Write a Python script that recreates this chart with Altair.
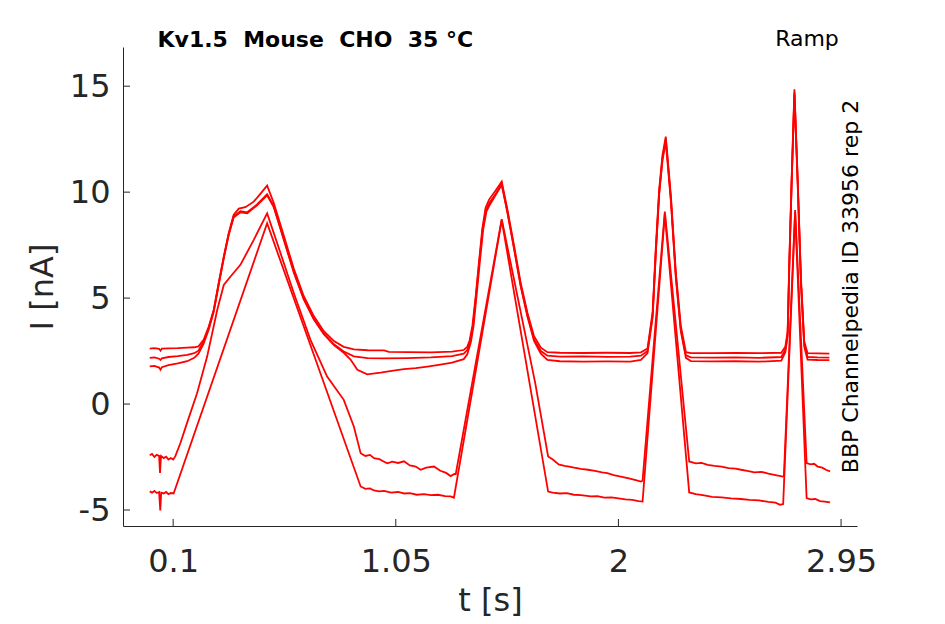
import altair as alt
import pandas as pd

# ---------------- data ----------------
TITLE = "Kv1.5\u00a0 Mouse\u00a0 CHO\u00a0 35 °C"
PROTOCOL = "Ramp"
SIDE_NOTE = "BBP Channelpedia ID 33956 rep 2"

X_TICKS = [0.1, 1.05, 2, 2.95]
Y_TICKS = [-5, 0, 5, 10, 15]

T1 = [0.000, 0.020, 0.040, 0.046, 0.052, 0.080, 0.120, 0.160, 0.190, 0.208, 0.230, 0.252, 0.273, 0.294,
      0.316, 0.337, 0.358, 0.380, 0.408, 0.444, 0.472, 0.501, 0.529, 0.572, 0.615, 0.657, 0.700, 0.743,
      0.786, 0.828, 0.871, 0.930, 1.000, 1.020, 1.100, 1.200, 1.290, 1.340, 1.355, 1.365, 1.377, 1.391,
      1.405, 1.419, 1.433, 1.448, 1.476, 1.502, 1.526, 1.555, 1.583, 1.612, 1.640, 1.669, 1.697, 1.750,
      1.850, 1.950, 2.050, 2.096, 2.124, 2.146, 2.160, 2.174, 2.188, 2.202, 2.224, 2.245, 2.266, 2.288,
      2.309, 2.400, 2.500, 2.600, 2.695, 2.712, 2.722, 2.729, 2.739, 2.751, 2.765, 2.779, 2.793, 2.807,
      2.850, 2.900]
I1 = [2.62, 2.64, 2.61, 2.52, 2.62, 2.63, 2.64, 2.66, 2.68, 2.72, 3.03, 3.66, 4.44, 5.70,
      6.96, 8.06, 8.92, 9.22, 9.29, 9.55, 9.92, 10.31, 9.50, 7.95, 6.38, 5.10, 4.15, 3.44,
      2.97, 2.70, 2.58, 2.54, 2.53, 2.46, 2.45, 2.44, 2.47, 2.55, 2.70, 3.00, 3.70, 5.10,
      6.70, 8.25, 9.25, 9.65, 10.08, 10.50, 9.20, 7.45, 5.72, 4.30, 3.20, 2.66, 2.45, 2.42,
      2.41, 2.42, 2.41, 2.44, 2.62, 4.35, 7.50, 10.15, 11.75, 12.62, 9.80, 6.20, 3.70, 2.45,
      2.40, 2.40, 2.41, 2.40, 2.42, 2.70, 3.40, 6.65, 10.60, 14.85, 10.60, 5.90, 2.95, 2.40,
      2.39, 2.38]

T2 = [0.000, 0.020, 0.040, 0.046, 0.052, 0.080, 0.120, 0.160, 0.190, 0.208, 0.230, 0.252, 0.273, 0.294,
      0.316, 0.337, 0.358, 0.387, 0.416, 0.458, 0.501, 0.529, 0.572, 0.615, 0.657, 0.700, 0.743, 0.786,
      0.828, 0.871, 0.930, 1.000, 1.100, 1.200, 1.290, 1.340, 1.355, 1.368, 1.380, 1.393, 1.407, 1.421,
      1.435, 1.450, 1.478, 1.502, 1.526, 1.555, 1.583, 1.612, 1.640, 1.669, 1.697, 1.750, 1.850, 1.950,
      2.050, 2.096, 2.124, 2.146, 2.160, 2.174, 2.188, 2.202, 2.224, 2.245, 2.266, 2.288, 2.309, 2.400,
      2.500, 2.600, 2.695, 2.712, 2.722, 2.729, 2.739, 2.751, 2.765, 2.779, 2.793, 2.807, 2.850, 2.900]
I2 = [2.18, 2.20, 2.14, 2.08, 2.16, 2.22, 2.26, 2.32, 2.40, 2.52, 2.95, 3.60, 4.40, 5.65,
      6.92, 8.02, 8.85, 9.10, 9.05, 9.42, 9.90, 9.35, 7.80, 6.25, 4.98, 4.02, 3.32, 2.82,
      2.48, 2.25, 2.17, 2.16, 2.17, 2.20, 2.26, 2.38, 2.55, 3.00, 3.75, 5.20, 6.80, 8.30,
      9.15, 9.50, 9.95, 10.40, 9.10, 7.35, 5.60, 4.18, 3.05, 2.50, 2.28, 2.24, 2.25, 2.23,
      2.24, 2.28, 2.50, 4.20, 7.30, 10.00, 11.60, 12.50, 9.65, 6.05, 3.55, 2.30, 2.20, 2.19,
      2.20, 2.18, 2.22, 2.55, 3.30, 6.50, 10.45, 14.70, 10.45, 5.75, 2.80, 2.22, 2.20, 2.19]

T3 = [0.000, 0.020, 0.040, 0.046, 0.052, 0.080, 0.120, 0.160, 0.190, 0.208, 0.230, 0.252, 0.273, 0.294,
      0.316, 0.337, 0.358, 0.387, 0.416, 0.458, 0.501, 0.529, 0.572, 0.615, 0.657, 0.700, 0.743, 0.786,
      0.828, 0.857, 0.886, 0.928, 0.985, 1.040, 1.085, 1.135, 1.185, 1.240, 1.290, 1.340, 1.355, 1.370,
      1.382, 1.395, 1.409, 1.423, 1.437, 1.452, 1.478, 1.502, 1.526, 1.555, 1.583, 1.612, 1.640, 1.669,
      1.697, 1.750, 1.850, 1.950, 2.050, 2.096, 2.124, 2.146, 2.160, 2.174, 2.188, 2.202, 2.224, 2.245,
      2.266, 2.288, 2.309, 2.400, 2.500, 2.600, 2.695, 2.712, 2.722, 2.729, 2.739, 2.751, 2.765, 2.779,
      2.793, 2.807, 2.850, 2.900]
I3 = [1.78, 1.80, 1.72, 1.62, 1.74, 1.84, 1.92, 2.02, 2.18, 2.38, 2.85, 3.52, 4.35, 5.60,
      6.88, 7.98, 8.80, 9.05, 9.00, 9.38, 9.85, 9.30, 7.75, 6.20, 4.95, 4.00, 3.30, 2.78,
      2.42, 2.10, 1.62, 1.40, 1.48, 1.58, 1.65, 1.70, 1.77, 1.86, 1.95, 2.12, 2.35, 2.90,
      3.70, 5.15, 6.75, 8.25, 9.10, 9.42, 9.90, 10.35, 9.05, 7.30, 5.55, 4.12, 2.98, 2.38,
      2.08, 2.02, 2.00, 2.01, 2.00, 2.08, 2.40, 4.10, 7.20, 9.90, 11.50, 12.40, 9.55, 5.95,
      3.45, 2.18, 2.03, 2.01, 2.02, 2.00, 2.05, 2.45, 3.20, 6.40, 10.35, 14.60, 10.35, 5.65,
      2.70, 2.10, 2.08, 2.07]

T4 = [0.000, 0.010, 0.020, 0.030, 0.040, 0.044, 0.048, 0.060, 0.070, 0.080, 0.090, 0.100, 0.109, 0.131,
      0.159, 0.202, 0.245, 0.288, 0.316, 0.344, 0.387, 0.444, 0.501, 0.544, 0.615, 0.686, 0.757, 0.828,
      0.871, 0.900, 0.920, 0.940, 0.957, 0.980, 1.000, 1.014, 1.035, 1.060, 1.085, 1.110, 1.135, 1.156,
      1.180, 1.213, 1.240, 1.265, 1.284, 1.300, 1.306, 1.502, 1.645, 1.700, 1.720, 1.745, 1.770, 1.790,
      1.811, 1.840, 1.870, 1.900, 1.930, 1.953, 1.980, 2.010, 2.040, 2.070, 2.096, 2.103, 2.198, 2.302,
      2.330, 2.355, 2.381, 2.410, 2.440, 2.470, 2.500, 2.523, 2.550, 2.580, 2.610, 2.640, 2.670, 2.703,
      2.706, 2.754, 2.803, 2.820, 2.835, 2.850, 2.870, 2.885, 2.903]
I4 = [-2.42, -2.35, -2.50, -2.40, -2.45, -3.25, -2.45, -2.55, -2.48, -2.62, -2.55, -2.62, -2.47, -1.84,
      -0.90, 0.51, 2.24, 4.44, 5.62, 6.01, 6.57, 7.75, 9.00, 7.59, 5.23, 3.03, 1.30, 0.20,
      -1.06, -2.32, -2.45, -2.40, -2.55, -2.60, -2.72, -2.80, -2.72, -2.78, -2.70, -2.90, -2.95, -3.10,
      -3.00, -2.95, -3.15, -3.25, -3.40, -3.30, -3.30, 8.72, 0.99, -2.47, -2.62, -2.85, -2.92, -2.95,
      -3.00, -3.06, -3.10, -3.15, -3.22, -3.26, -3.35, -3.42, -3.50, -3.58, -3.66, -3.62, 9.08, -2.71,
      -2.80, -2.78, -2.87, -2.92, -2.95, -3.02, -3.05, -3.10, -3.15, -3.22, -3.20, -3.28, -3.35, -3.42,
      -3.40, 9.16, -2.79, -2.85, -2.82, -2.95, -3.00, -3.10, -3.18]

T5 = [0.000, 0.010, 0.020, 0.030, 0.040, 0.045, 0.049, 0.060, 0.070, 0.080, 0.090, 0.102, 0.501, 0.900,
      0.920, 0.940, 0.957, 0.980, 1.000, 1.030, 1.060, 1.085, 1.110, 1.140, 1.170, 1.200, 1.230, 1.260,
      1.284, 1.298, 1.502, 1.700, 1.720, 1.750, 1.780, 1.810, 1.840, 1.882, 1.910, 1.940, 1.970, 2.000,
      2.030, 2.060, 2.085, 2.103, 2.198, 2.302, 2.330, 2.360, 2.400, 2.440, 2.480, 2.523, 2.560, 2.600,
      2.640, 2.670, 2.690, 2.703, 2.754, 2.803, 2.820, 2.840, 2.860, 2.880, 2.903]
I5 = [-4.12, -4.18, -4.10, -4.20, -4.15, -5.02, -4.18, -4.22, -4.15, -4.25, -4.20, -4.22, 8.53, -3.89,
      -4.00, -3.98, -4.08, -4.12, -4.10, -4.18, -4.15, -4.22, -4.20, -4.28, -4.25, -4.30, -4.28, -4.35,
      -4.36, -4.42, 8.68, -4.13, -4.18, -4.22, -4.20, -4.28, -4.30, -4.36, -4.35, -4.42, -4.40, -4.45,
      -4.50, -4.52, -4.58, -4.60, 8.95, -4.17, -4.25, -4.30, -4.38, -4.40, -4.45, -4.48, -4.52, -4.55,
      -4.62, -4.65, -4.75, -4.72, 9.05, -4.44, -4.50, -4.48, -4.58, -4.60, -4.64]

TRACES = {"1": (T1, I1), "2": (T2, I2), "3": (T3, I3), "4": (T4, I4), "5": (T5, I5)}

# ---------------- layout / style ----------------
W, H = 734, 479
AX = "#262626"
FONT = "DejaVu Sans"
X_DOMAIN = [-0.114, 3.018]
Y_DOMAIN = [-5.755, 16.85]

rows = []
for name, (ts, vs) in TRACES.items():
    for k, (t, v) in enumerate(zip(ts, vs)):
        rows.append({"trace": name, "idx": k, "t": t, "I": v})
df = pd.DataFrame(rows)

xscale = alt.Scale(domain=X_DOMAIN, nice=False, zero=False)
yscale = alt.Scale(domain=Y_DOMAIN, nice=False, zero=False)

xaxis = alt.Axis(values=X_TICKS, labelExpr="datum.value + ''", ticks=False, tickSize=0, grid=False,
                 domainColor=AX, domainWidth=1, labelFontSize=32, labelColor=AX, labelFont=FONT,
                 labelPadding=20, labelFlush=False, labelOverlap=False,
                 title="t [s]", titleFontSize=32, titleFontWeight="normal", titleColor=AX,
                 titleFont=FONT, titlePadding=8)
yaxis = alt.Axis(values=Y_TICKS, labelExpr="datum.value + ''", ticks=False, tickSize=0, grid=False,
                 domainColor=AX, domainWidth=1, labelFontSize=32, labelColor=AX, labelFont=FONT,
                 labelPadding=13, labelFlush=False, labelOverlap=False,
                 title="I [nA]", titleFontSize=32, titleFontWeight="normal", titleColor=AX,
                 titleFont=FONT, titlePadding=10)

lines = alt.Chart(df).mark_line(color="#ff0000", strokeWidth=1.8, clip=True).encode(
    x=alt.X("t:Q", scale=xscale, axis=xaxis),
    y=alt.Y("I:Q", scale=yscale, axis=yaxis),
    detail="trace:N",
    order=alt.Order("idx:Q"),
)

xt = alt.Chart(pd.DataFrame({"t": X_TICKS})).mark_rule(color=AX, strokeWidth=1).encode(
    x=alt.X("t:Q", scale=xscale, axis=xaxis),
    y=alt.value(H), y2=alt.value(H - 7),
)
yt = alt.Chart(pd.DataFrame({"I": Y_TICKS})).mark_rule(color=AX, strokeWidth=1).encode(
    y=alt.Y("I:Q", scale=yscale, axis=yaxis),
    x=alt.value(0), x2=alt.value(7),
)

title_txt = alt.Chart(pd.DataFrame({"label": [TITLE]})).mark_text(
    font=FONT, fontSize=22, fontWeight="bold", color="black", align="left", baseline="alphabetic"
).encode(text="label:N", x=alt.value(34.5), y=alt.value(0))

ramp_txt = alt.Chart(pd.DataFrame({"label": [PROTOCOL]})).mark_text(
    font=FONT, fontSize=22, color="black", align="center", baseline="alphabetic"
).encode(text="label:N", x=alt.value(684), y=alt.value(-1))

side_txt = alt.Chart(pd.DataFrame({"label": [SIDE_NOTE]})).mark_text(
    font=FONT, fontSize=22, color="black", align="center", baseline="alphabetic", angle=270
).encode(text="label:N", x=alt.value(734.5), y=alt.value(239.5))

chart = alt.layer(lines, xt, yt, title_txt, ramp_txt, side_txt).properties(
    width=W, height=H,
    padding={"left": 115, "top": 39, "right": 60, "bottom": 92},
    autosize="none",
    background="white",
).configure_view(stroke=None)

chart.save("out.html", embed_options={"renderer": "svg", "actions": False})
